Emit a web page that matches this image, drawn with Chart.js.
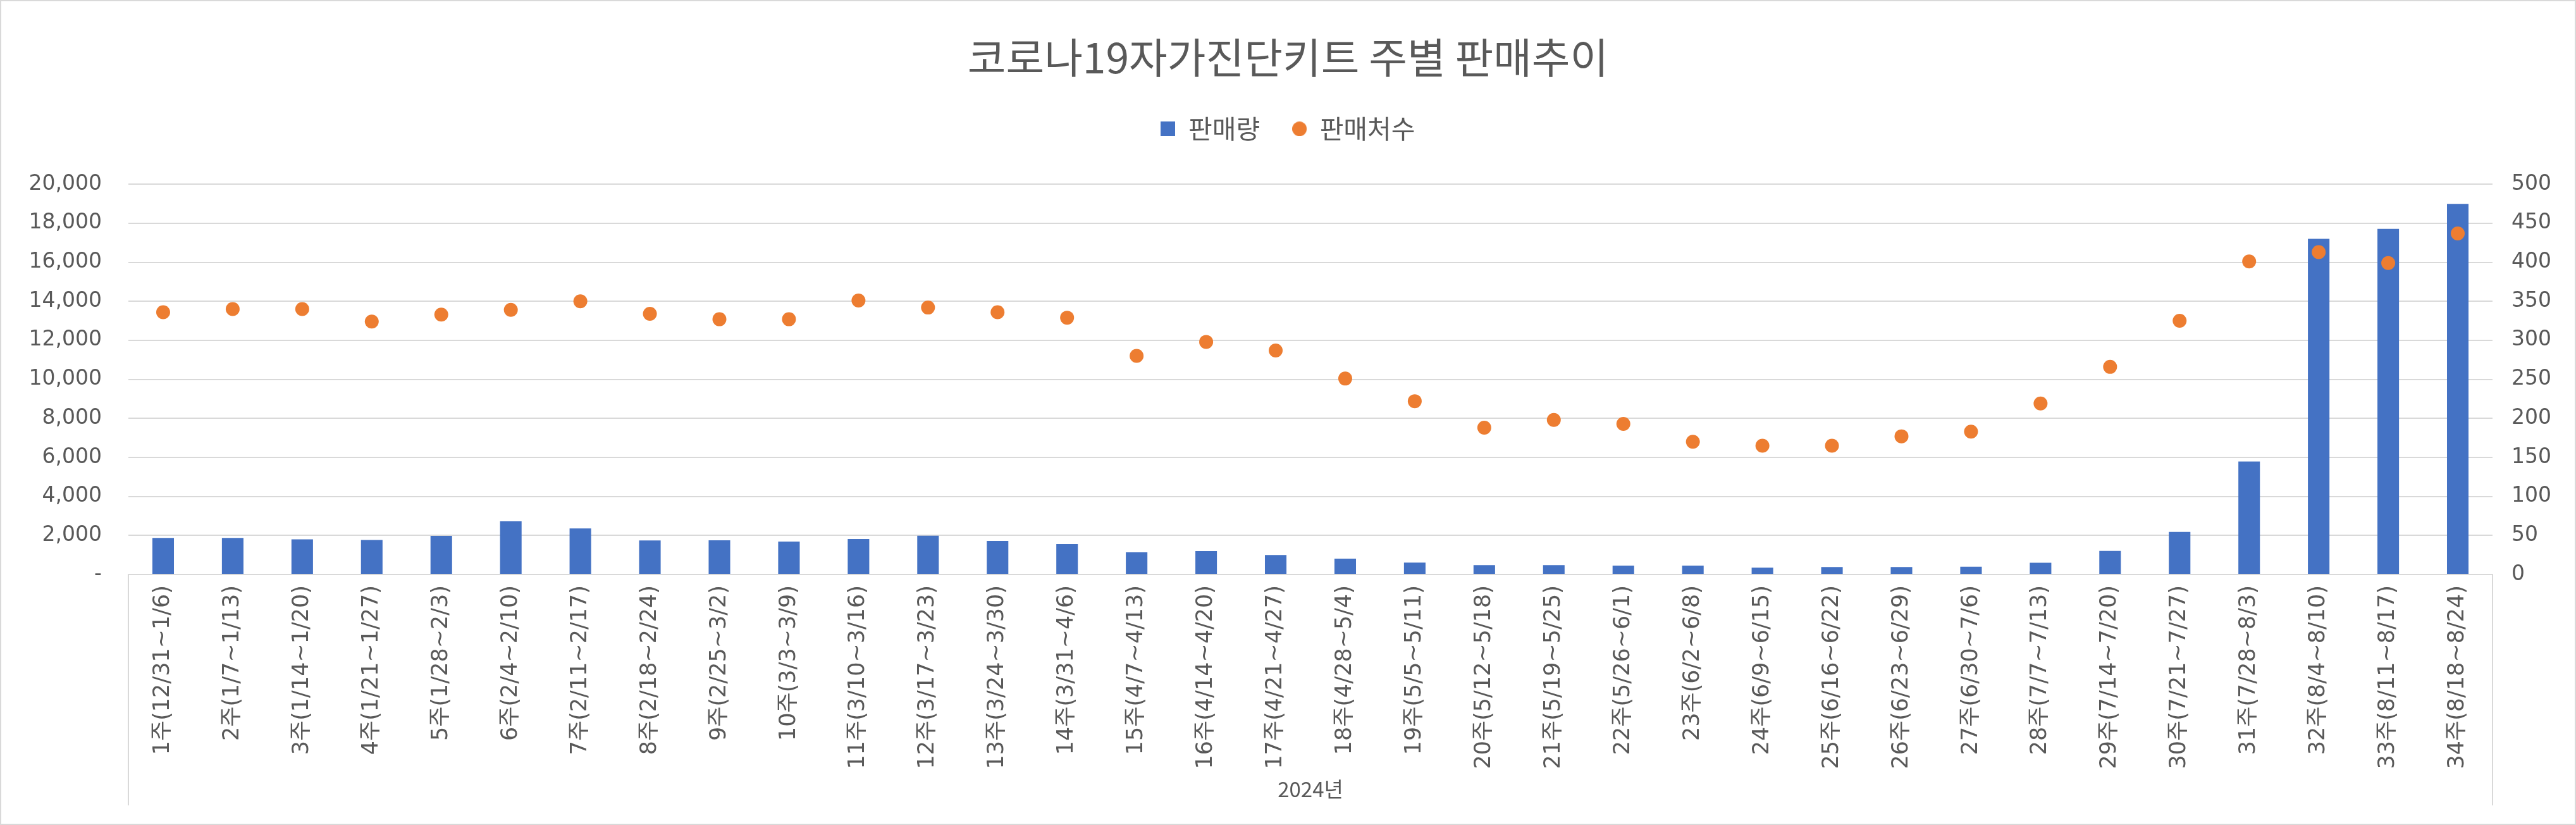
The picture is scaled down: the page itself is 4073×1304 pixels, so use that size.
<!DOCTYPE html>
<html lang="ko">
<head>
<meta charset="UTF-8">
<title>코로나19자가진단키트 주별 판매추이</title>
<script src="https://cdn.jsdelivr.net/npm/chart.js@4.4.1/dist/chart.umd.min.js"></script>
<style>
	html, body { margin: 0; padding: 0; background: #ffffff; }
	.chart-box { position: relative; width: 4073px; height: 1304px; }
</style>
</head>
<body>
<div class="chart-box"><canvas id="sales_chart"></canvas></div>
<script>
// 주차 라벨
var weekLabels = [
	'1주(12/31~1/6)', '2주(1/7~1/13)', '3주(1/14~1/20)', '4주(1/21~1/27)', '5주(1/28~2/3)',
	'6주(2/4~2/10)', '7주(2/11~2/17)', '8주(2/18~2/24)', '9주(2/25~3/2)', '10주(3/3~3/9)',
	'11주(3/10~3/16)', '12주(3/17~3/23)', '13주(3/24~3/30)', '14주(3/31~4/6)', '15주(4/7~4/13)',
	'16주(4/14~4/20)', '17주(4/21~4/27)', '18주(4/28~5/4)', '19주(5/5~5/11)', '20주(5/12~5/18)',
	'21주(5/19~5/25)', '22주(5/26~6/1)', '23주(6/2~6/8)', '24주(6/9~6/15)', '25주(6/16~6/22)',
	'26주(6/23~6/29)', '27주(6/30~7/6)', '28주(7/7~7/13)', '29주(7/14~7/20)', '30주(7/21~7/27)',
	'31주(7/28~8/3)', '32주(8/4~8/10)', '33주(8/11~8/17)', '34주(8/18~8/24)'
];
var yearLabel = '2024년';

// 판매량 (막대, 왼쪽 축)
var salesQty = [
	1870, 1870, 1800, 1770, 1980, 2720, 2360, 1740, 1750, 1690,
	1815, 1985, 1720, 1555, 1135, 1200, 1000, 810, 610, 480,
	480, 455, 455, 350, 385, 385, 400, 600, 1210, 2180,
	5790, 17200, 17710, 18990
];

// 판매처수 (점, 오른쪽 축)
var storeCount = [
	336, 340, 340, 324, 333, 339, 350, 334, 327, 327,
	351, 342, 336, 329, 280, 298, 287, 251, 222, 188,
	198, 193, 170, 165, 165, 177, 183, 219, 266, 325,
	401, 413, 399, 437
];

// 축 범위
var leftMax = 20000;
var leftStep = 2000;
var rightMax = 500;
var rightStep = 50;

var barColor = '#4472C4';
var dotColor = '#ED7D31';
var gridColor = '#d9d9d9';
var textColor = '#595959';
var tickFont = { size: 33, family: "'DejaVu Sans', 'Noto Sans CJK KR'" };

// 범례 마커 (막대는 사각형, 점은 원, 둘 다 23px)
function makeMarker(shape, color) {
	var c = document.createElement('canvas');
	c.width = 23;
	c.height = 23;
	var g = c.getContext('2d');
	g.fillStyle = color;
	if (shape === 'rect') {
		g.fillRect(0, 0, 23, 23);
	} else {
		g.beginPath();
		g.arc(11.5, 11.5, 11.5, 0, Math.PI * 2);
		g.fill();
	}
	return c;
}
var legendMarkers = [makeMarker('rect', barColor), makeMarker('circle', dotColor)];

// 범례 아래 여백, 항목축 테두리, 차트 외곽선
var excelFramePlugin = {
	id: 'excelFrame',
	beforeInit(chart) {
		var originalFit = chart.legend.fit;
		chart.legend.fit = function() {
			originalFit.bind(chart.legend)();
			this.height = 159;
		};
	},
	afterDraw(chart) {
		var ctx = chart.ctx;
		var area = chart.chartArea;
		ctx.save();
		ctx.strokeStyle = gridColor;
		ctx.lineWidth = 2;
		ctx.beginPath();
		ctx.moveTo(area.left, area.bottom);
		ctx.lineTo(area.left, 1273);
		ctx.moveTo(area.right, area.bottom);
		ctx.lineTo(area.right, 1273);
		ctx.stroke();
		ctx.strokeRect(1, 1, chart.width - 2, chart.height - 2);
		ctx.restore();
	}
};

Chart.defaults.font.family = "'Noto Sans CJK KR', 'Noto Sans'";
Chart.defaults.color = textColor;

var salesChart = new Chart(document.getElementById('sales_chart'), {
	type: 'bar',
	data: {
		labels: weekLabels,
		datasets: [{
			type: 'bar',
			label: '판매량',
			data: salesQty,
			yAxisID: 'y1',
			backgroundColor: barColor,
			borderWidth: 0,
			barPercentage: 0.31,
			categoryPercentage: 1.0,
			order: 2
		}, {
			type: 'line',
			label: '판매처수',
			data: storeCount,
			yAxisID: 'y2',
			showLine: false,
			pointStyle: 'circle',
			pointRadius: 11,
			pointHoverRadius: 11,
			pointBorderWidth: 0,
			pointBackgroundColor: dotColor,
			backgroundColor: dotColor,
			borderColor: dotColor,
			order: 1
		}]
	},
	options: {
		responsive: true,
		maintainAspectRatio: false,
		animation: false,
		layout: {
			padding: 0
		},
		plugins: {
			title: {
				display: true,
				text: '코로나19자가진단키트 주별 판매추이',
				color: textColor,
				font: { size: 66, weight: 'normal' },
				padding: { top: 51, bottom: 2 }
			},
			legend: {
				display: true,
				position: 'top',
				labels: {
					usePointStyle: true,
					boxWidth: 23,
					boxHeight: 23,
					padding: 51,
					color: textColor,
					font: { size: 41 },
					sort: (a, b) => a.datasetIndex - b.datasetIndex,
					generateLabels: function(chart) {
						var items = Chart.defaults.plugins.legend.labels.generateLabels(chart);
						items.forEach(function(item) {
							item.pointStyle = legendMarkers[item.datasetIndex];
						});
						return items;
					}
				}
			},
			tooltip: { enabled: false }
		},
		scales: {
			x: {
				grid: { display: false, drawTicks: false },
				border: { display: true, color: gridColor, width: 2 },
				ticks: {
					autoSkip: false,
					maxRotation: 90,
					minRotation: 90,
					padding: 17,
					color: textColor,
					font: { size: 35, family: tickFont.family }
				},
				title: {
					display: true,
					text: yearLabel,
					color: textColor,
					font: { size: 33 },
					padding: { top: 0, bottom: 37 }
				},
				afterFit: function(scale) { scale.height = 396; }
			},
			y1: {
				type: 'linear',
				position: 'left',
				min: 0,
				max: leftMax,
				grid: { color: gridColor, lineWidth: 2, drawTicks: false },
				border: { display: false },
				ticks: {
					stepSize: leftStep,
					padding: 42,
					color: textColor,
					font: tickFont,
					callback: function(value) {
						return value === 0 ? '-' : value.toLocaleString('en-US');
					}
				},
				afterFit: function(scale) { scale.width = 203; }
			},
			y2: {
				type: 'linear',
				position: 'right',
				min: 0,
				max: rightMax,
				grid: { drawOnChartArea: false, drawTicks: false },
				border: { display: false },
				ticks: {
					stepSize: rightStep,
					padding: 30,
					color: textColor,
					font: tickFont
				},
				afterFit: function(scale) { scale.width = 132; }
			}
		}
	},
	plugins: [excelFramePlugin]
});
</script>
</body>
</html>
